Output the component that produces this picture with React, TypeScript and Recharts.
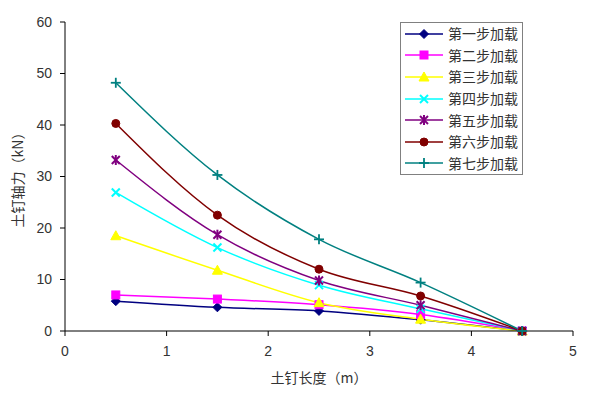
import React from 'react';
import { LineChart, Line, XAxis, YAxis, Legend } from 'recharts';

const lengths = [0.5, 1.5, 2.5, 3.5, 4.5];
const step1 = [5.8, 4.6, 3.9, 2.2, 0];
const step2 = [7.0, 6.2, 5.1, 3.2, 0];
const step3 = [18.5, 11.8, 5.5, 2.3, 0];
const step4 = [26.9, 16.2, 8.9, 4.3, 0];
const step5 = [33.2, 18.7, 9.8, 5.0, 0];
const step6 = [40.3, 22.5, 12.0, 6.8, 0];
const step7 = [48.2, 30.3, 17.8, 9.4, 0];
const seriesNames = ['第一步加载', '第二步加载', '第三步加载', '第四步加载', '第五步加载', '第六步加载', '第七步加载'];
const xTicks = [0, 1, 2, 3, 4, 5];
const yTicks = [0, 10, 20, 30, 40, 50, 60];

const seriesValues = [step1, step2, step3, step4, step5, step6, step7];
const colors = ['#000080', '#FF00FF', '#FFFF00', '#00FFFF', '#800080', '#800000', '#008080'];
const markers = ['diamond', 'square', 'triangle', 'x', 'star', 'circle', 'plus'];

const data = lengths.map((x, i) => {
  const row: Record<string, number> = { x };
  seriesValues.forEach((s, j) => { row['s' + j] = s[i]; });
  return row;
});

function Marker({ type, cx, cy, color }: { type: string; cx: number; cy: number; color: string }) {
  const r = 4.5;
  switch (type) {
    case 'diamond':
      return <polygon points={`${cx},${cy - r} ${cx + r},${cy} ${cx},${cy + r} ${cx - r},${cy}`} fill={color} stroke={color} />;
    case 'square':
      return <rect x={cx - 4} y={cy - 4} width={8} height={8} fill={color} stroke={color} />;
    case 'triangle':
      return <polygon points={`${cx},${cy - 5} ${cx + 5},${cy + 4} ${cx - 5},${cy + 4}`} fill={color} stroke={color} />;
    case 'x':
      return (
        <g stroke={color} strokeWidth={2}>
          <line x1={cx - 4} y1={cy - 4} x2={cx + 4} y2={cy + 4} />
          <line x1={cx - 4} y1={cy + 4} x2={cx + 4} y2={cy - 4} />
        </g>
      );
    case 'star':
      return (
        <g stroke={color} strokeWidth={2}>
          <line x1={cx - 4} y1={cy - 4} x2={cx + 4} y2={cy + 4} />
          <line x1={cx - 4} y1={cy + 4} x2={cx + 4} y2={cy - 4} />
          <line x1={cx} y1={cy - 5} x2={cx} y2={cy + 5} />
        </g>
      );
    case 'circle':
      return <circle cx={cx} cy={cy} r={4} fill={color} stroke={color} />;
    case 'plus':
    default:
      return (
        <g stroke={color} strokeWidth={1.8}>
          <line x1={cx - 5} y1={cy} x2={cx + 5} y2={cy} />
          <line x1={cx} y1={cy - 5} x2={cx} y2={cy + 5} />
        </g>
      );
  }
}

const LegendBox = () => (
  <div style={{ border: '1px solid #808080', background: '#fff', padding: '0 0 0 4px', width: 123, height: 153, boxSizing: 'border-box' }}>
    {seriesNames.map((n, i) => (
      <div key={n} style={{ display: 'flex', alignItems: 'center', height: 21.6 }}>
        <svg width={40} height={14} style={{ flex: 'none' }}>
          <line x1={0} y1={7} x2={38} y2={7} stroke={colors[i]} strokeWidth={1.5} />
          <Marker type={markers[i]} cx={19} cy={7} color={colors[i]} />
        </svg>
        <span style={{ marginLeft: 3, fontSize: 14, color: '#333', fontFamily: '"Noto Sans CJK SC", sans-serif', lineHeight: '21px', whiteSpace: 'nowrap' }}>{n}</span>
      </div>
    ))}
  </div>
);

export default function App() {
  return (
    <div style={{ position: 'absolute', left: 0, top: 0, width: 600, height: 397, background: '#fff' }}>
      <LineChart width={600} height={397} data={data} margin={{ top: 22, right: 27, left: 0, bottom: 26 }}>
        <XAxis
          dataKey="x"
          type="number"
          domain={[0, 5]}
          ticks={xTicks}
          axisLine={{ stroke: '#000' }}
          tickLine={{ stroke: '#000' }}
          tickSize={5}
          height={40}
          tick={{ fill: '#333', fontSize: 14, fontFamily: 'Liberation Sans, Arial, sans-serif' }}
          tickMargin={10}
          label={{ value: '土钉长度（m）', position: 'insideBottom', offset: -12, fill: '#333', fontSize: 14, fontFamily: '"Noto Sans CJK SC", sans-serif' }}
        />
        <YAxis
          type="number"
          domain={[0, 60]}
          ticks={yTicks}
          width={65}
          axisLine={{ stroke: '#000' }}
          tickLine={{ stroke: '#000' }}
          tickSize={5}
          tickMargin={8}
          tick={{ fill: '#333', fontSize: 14, fontFamily: 'Liberation Sans, Arial, sans-serif' }}
          label={{ value: '土钉轴力（kN）', angle: -90, position: 'insideLeft', offset: 18, fill: '#333', fontSize: 14, fontFamily: '"Noto Sans CJK SC", sans-serif', style: { textAnchor: 'middle' } }}
        />
        {seriesNames.map((n, i) => (
          <Line
            key={n}
            name={n}
            dataKey={'s' + i}
            type="monotone"
            stroke={colors[i]}
            strokeWidth={1.5}
            isAnimationActive={false}
            dot={(p: any) => <Marker key={`d${i}-${p.index}`} type={markers[i]} cx={p.cx} cy={p.cy} color={colors[i]} />}
            activeDot={false}
          />
        ))}
        <Legend layout="vertical" align="center" verticalAlign="middle" content={LegendBox} wrapperStyle={{ left: 400, top: 22, width: 123 }} />
      </LineChart>
    </div>
  );
}
